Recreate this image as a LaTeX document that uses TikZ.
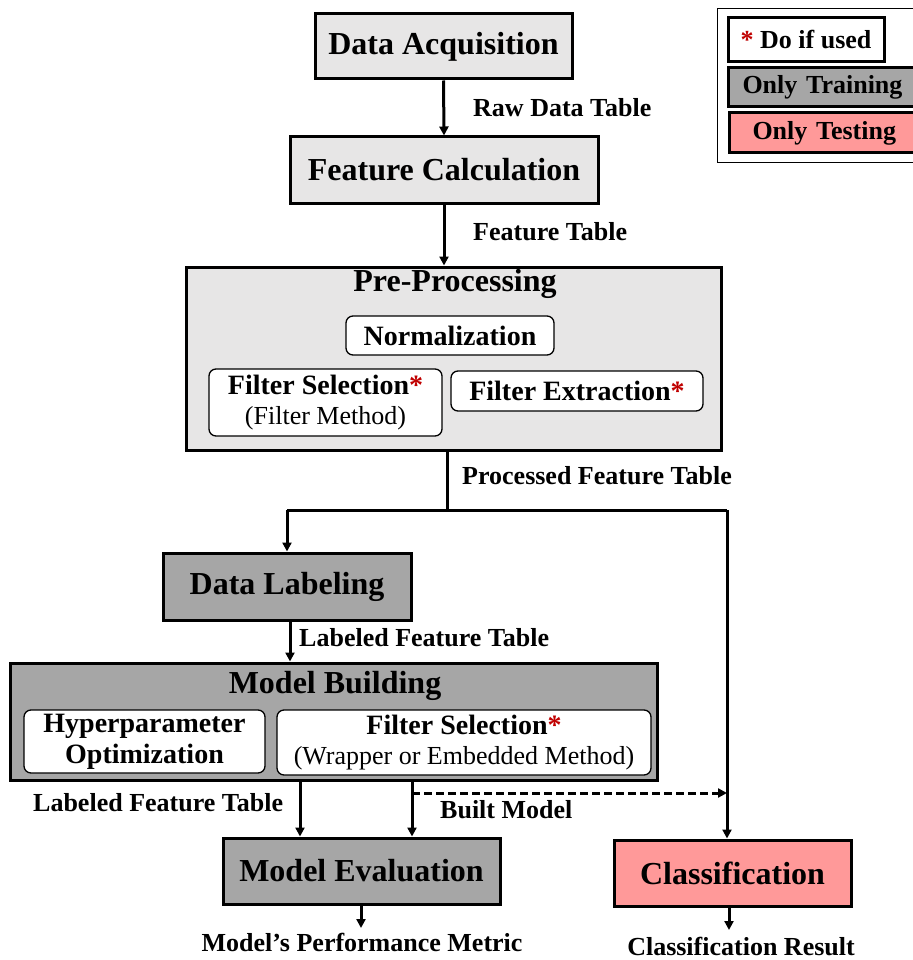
\documentclass[tikz,border=0pt]{standalone}
\usepackage{fontspec}
\setmainfont{Liberation Serif}
\usetikzlibrary{arrows.meta,calc}
\definecolor{lg}{HTML}{E7E6E6}
\definecolor{dg}{HTML}{A6A6A6}
\definecolor{pk}{HTML}{FF9999}
\definecolor{astc}{HTML}{C00000}
\newcommand{\rast}{\textcolor{astc}{*}}
\newcommand{\fs}[1]{\fontsize{#1}{#1}\selectfont}
\tikzset{
  mainbox/.style={draw=black, line width=3pt, inner sep=0pt, align=center, font=\fs{32}\bfseries},
  subbox/.style={draw=black, fill=white, line width=1.3pt, rounded corners=7pt, inner sep=0pt, align=center, font=\fs{28}\bfseries},
  lbl/.style={inner sep=0pt, font=\fs{26}\bfseries},
  arr/.style={line width=3pt, -{Triangle[length=9pt,width=9pt]}},
  ln/.style={line width=3pt},
  legbox/.style={draw=black, line width=3pt, inner sep=0pt, font=\fs{26}\bfseries}
}
\begin{document}
\begin{tikzpicture}[x=1pt,y=-1pt]
\useasboundingbox (0,0) rectangle (912,960);
% legend
\draw[line width=1pt] (717,9) rectangle (920,163);
\node[legbox, fill=white, minimum width=156pt, minimum height=44pt] (lg1) at (806,40) {\rast{} Do if used};
\node[legbox, fill=dg, anchor=west, minimum width=190pt, minimum height=39pt, text width=186pt, align=left] (lg2) at (727,87.5) {\hspace{12pt}Only Training};
\node[legbox, fill=pk, anchor=west, minimum width=190pt, minimum height=40pt, text width=186pt, align=left] (lg3) at (728,133) {\hspace{21pt}Only Testing};
% main chain
\node[mainbox, fill=lg, minimum width=257pt, minimum height=65pt] (acq) at (443.5,46.5) {Data Acquisition};
\node[mainbox, fill=lg, minimum width=308pt, minimum height=66pt] (feat) at (444,170) {Feature Calculation};
\node[mainbox, fill=lg, minimum width=535pt, minimum height=183pt] (pre) at (453.5,358.5) {};
\node[inner sep=0pt, font=\fs{32}\bfseries] (pret) at (455,284) {Pre-Processing};
\node[subbox, minimum width=208pt, minimum height=39pt] (norm) at (450,335.5) {Normalization};
\node[subbox, minimum width=233pt, minimum height=67pt] (fsel) at (325.5,402.5) {Filter Selection\rast\\[2pt]{\fs{26}\mdseries (Filter Method)}};
\node[subbox, minimum width=252pt, minimum height=40pt] (fext) at (577,391) {Filter Extraction\rast};
\node[mainbox, fill=dg, minimum width=248pt, minimum height=67pt] (lab) at (287,586.5) {Data Labeling};
\node[mainbox, fill=dg, minimum width=647pt, minimum height=117pt] (mb) at (333.5,721.5) {};
\node[inner sep=0pt, font=\fs{32}\bfseries] (mbt) at (335,686) {Model Building};
\node[subbox, minimum width=241pt, minimum height=63pt] (hyp) at (144.5,741.5) {Hyperparameter\\[3pt]Optimization};
\node[subbox, minimum width=374pt, minimum height=65pt] (fsel2) at (464,742.5) {Filter Selection\rast\\[2pt]{\fs{26}\mdseries (Wrapper or Embedded Method)}};
\node[mainbox, fill=dg, minimum width=277pt, minimum height=66pt] (me) at (361.5,871) {Model Evaluation};
\node[mainbox, fill=pk, minimum width=237pt, minimum height=66pt] (cls) at (732.5,873) {Classification};
% labels
\node[lbl, anchor=west] (l1) at (473,108) {Raw Data Table};
\node[lbl, anchor=west] (l2) at (473,232) {Feature Table};
\node[lbl, anchor=west] (l3) at (462,476) {Processed Feature Table};
\node[lbl, anchor=west] (l4) at (299,638) {Labeled Feature Table};
\node[lbl, anchor=west] (l5) at (33,803) {Labeled Feature Table};
\node[lbl, anchor=west] (l6) at (440,810) {Built Model};
\node[lbl] (l7) at (362,942) {Model's Performance Metric};
\node[lbl] (l8) at (741,946) {Classification Result};
% connectors
\draw[arr] (acq.south) -- (feat.north);
\draw[arr] (feat.south) -- (feat.south |- pre.north);
\coordinate (j) at (447,510);
\coordinate (jr) at (727,510);
\draw[ln] (pre.south -| j) -- (j);
\draw[ln] (lab.north |- j) -- (jr);
\draw[arr] (lab.north |- j) -- (lab.north);
\draw[arr] (jr) -- (cls.north -| jr);
\coordinate (a1) at (290,620);
\draw[arr] (lab.south -| a1) -- (mb.north -| a1);
\coordinate (a2) at (300,780);
\coordinate (a3) at (412,780);
\draw[arr] (mb.south -| a2) -- (me.north -| a2);
\draw[arr] (mb.south -| a3) -- (me.north -| a3);
\coordinate (d1) at (412,793);
\coordinate (d2) at (727,793);
\draw[line width=3pt, dash pattern=on 8pt off 4pt, -{Triangle[length=9pt,width=9pt]}] (d1) -- (d2);
\coordinate (o1) at (361,928);
\coordinate (o2) at (729,930);
\draw[arr] (me.south -| o1) -- (o1);
\draw[arr] (cls.south -| o2) -- (o2);
\end{tikzpicture}
\end{document}
